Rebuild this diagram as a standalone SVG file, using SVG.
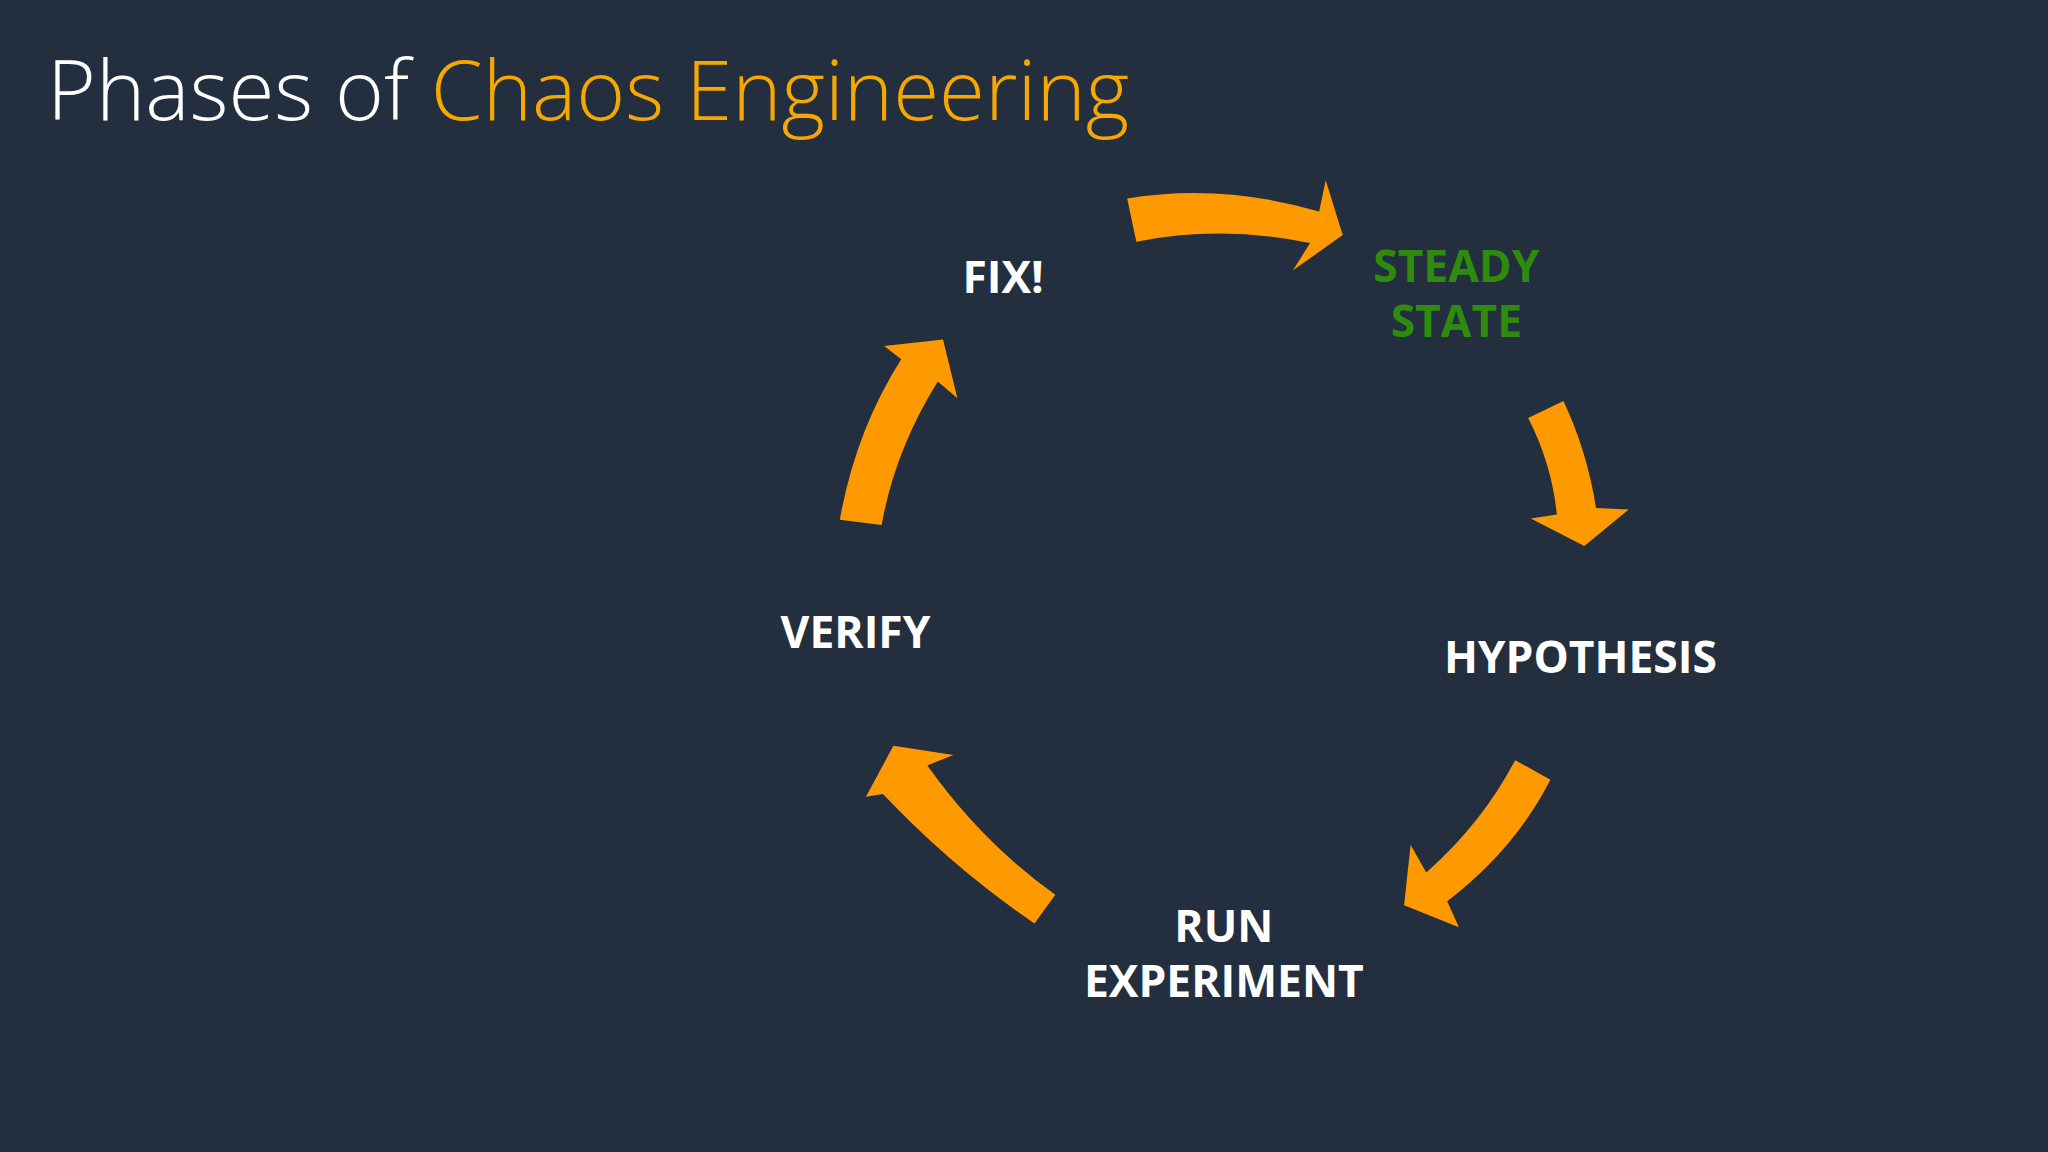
<svg xmlns="http://www.w3.org/2000/svg" width="2048" height="1152" viewBox="0 0 2048 1152">
<style>
.lbl{font-family:"Open Sans","Liberation Sans",sans-serif;font-weight:700;font-size:34px;fill:#ffffff;text-anchor:middle}
.arr{fill:#ff9900}
</style>
<rect width="2048" height="1152" fill="#232f3e"/>
<g transform="scale(1.30612)">
<text x="36" y="92" font-family="'Open Sans','Liberation Sans',sans-serif" font-weight="300" font-size="64" fill="#ffffff">Phases of <tspan fill="#f7a800">Chaos Engineering</tspan></text>
<g id="connectors">
<path class="arr" d="M863,152 Q935,140 1010,162 L1015,138 L1028,180 L990,207 L1003,186 Q935,172 870,185 Z"/>
<path class="arr" d="M1170,320 L1197,307 Q1215,345 1222,389 L1247,390 L1213,418 L1172,397 L1192,394 Q1188,355 1170,320 Z"/>
<path class="arr" d="M1160,582 L1187,597 Q1160,650 1108,690 L1117,710 L1075,693 L1080,647 L1092,668 Q1135,630 1160,582 Z"/>
<path class="arr" d="M808,685 L792,707 Q730,665 676,608 L663,610 L684,571 L730,578 L710,586 Q752,645 808,685 Z"/>
<path class="arr" d="M643,398 Q655,330 690,275 L677,265 L722,260 L733,305 L718,292 Q685,345 675,402 Z"/>
</g>
<g id="fix"><text class="lbl" x="768" y="224">FIX!</text></g>
<g id="steady"><text class="lbl" x="1115" y="216" style="fill:#2e8b0e">STEADY</text><text class="lbl" x="1115" y="258" style="fill:#2e8b0e">STATE</text></g>
<g id="hypothesis"><text class="lbl" x="1210" y="515">HYPOTHESIS</text></g>
<g id="run"><text class="lbl" x="937" y="721">RUN</text><text class="lbl" x="937" y="763">EXPERIMENT</text></g>
<g id="verify"><text class="lbl" x="655" y="496">VERIFY</text></g>
</g>
</svg>
